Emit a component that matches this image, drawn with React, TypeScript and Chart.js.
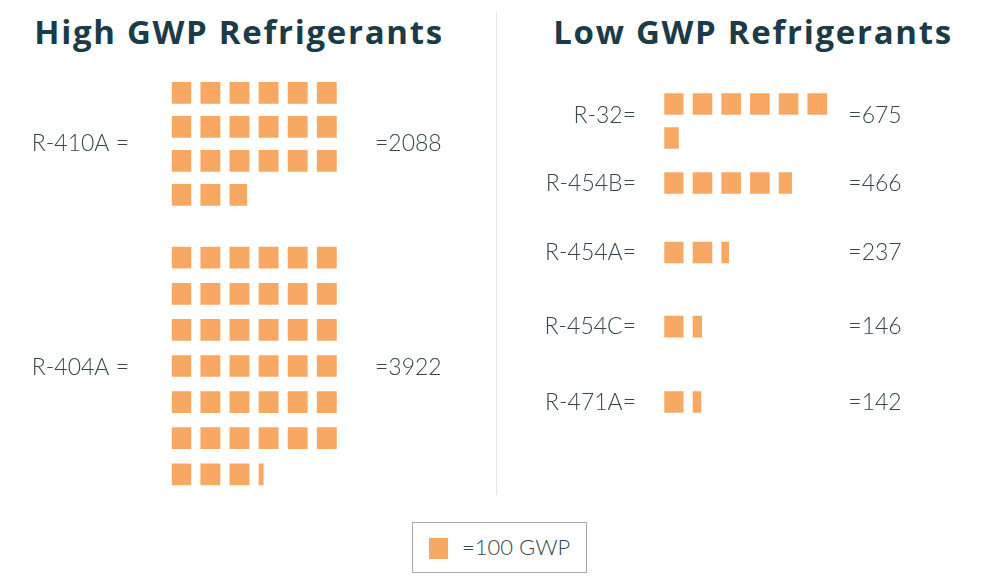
import React, { useEffect, useRef } from 'react';
import { Chart, registerables } from 'chart.js';

Chart.register(...registerables);

// ---------- data ----------
const highNames = ['R-410A', 'R-404A'];
const highGwp = [2088, 3922];
const lowNames = ['R-32', 'R-454B', 'R-454A', 'R-454C', 'R-471A'];
const lowGwp = [675, 466, 237, 146, 142];
const unitGwp = 100;
const perRow = 6;
const titles = ['High GWP Refrigerants', 'Low GWP Refrigerants'];
const legendLabel = '=100 GWP';

// ---------- layout (page pixels, used as y-scale units) ----------
const highRowTop = [92.8, 257.7];
const highRowStep = [34, 36.1];
const highLabelY = [143.6, 368];
const lowRowTop = [104, 183, 252.5, 326.7, 402];
const lowRowStep = [34, 34, 34, 34, 34];
const lowLabelY = [115.5, 183.5, 252.5, 327, 403];

const ORANGE = '#F7A964';
const TEXT = '#34474f';
const TITLE = '#1c3b48';
const SQUARE_FRAC = 0.66;
const CANVAS_H = 560;
const Y_MIN = 60;
const Y_MAX = 490;
const FONT = 'Lato, "Open Sans", sans-serif';
const TITLE_FONT = '"Open Sans", Lato, sans-serif';

type Pt = { x: [number, number]; y: number };

function buildSquares(values: number[], tops: number[], steps: number[]): Pt[] {
  const pts: Pt[] = [];
  values.forEach((v, i) => {
    const n = v / unitGwp;
    const count = Math.ceil(n);
    for (let k = 0; k < count; k++) {
      const fill = Math.min(1, n - k);
      const col = k % perRow;
      const row = Math.floor(k / perRow);
      pts.push({ x: [col, col + fill * SQUARE_FRAC], y: tops[i] + row * steps[i] });
    }
  });
  return pts;
}

type PanelProps = {
  names: string[];
  nameSuffix: string;
  values: number[];
  tops: number[];
  steps: number[];
  labelY: number[];
  left: number;
  width: number;
  leftAxisW: number;
  leftPad: number;
  rightAxisW: number;
  rightPad: number;
  fontSize: number;
};

function Panel(p: PanelProps) {
  const ref = useRef<HTMLCanvasElement>(null);
  useEffect(() => {
    if (!ref.current) return;
    const font = { family: FONT, size: p.fontSize, weight: 300 as any };
    const axis = (position: 'left' | 'right', w: number, pad: number, cb: (i: number) => string) => ({
      type: 'linear' as const,
      position,
      min: Y_MIN,
      max: Y_MAX,
      reverse: true,
      offset: false,
      grid: { display: false, drawTicks: false, offset: false },
      border: { display: false },
      afterFit: (s: any) => {
        s.width = w;
        s.paddingTop = 0;
        s.paddingBottom = 0;
      },
      afterBuildTicks: (s: any) => {
        s.ticks = p.labelY.map((v) => ({ value: v }));
      },
      ticks: {
        autoSkip: false,
        padding: pad,
        color: TEXT,
        font,
        callback: (_v: any, i: number) => cb(i),
      },
    });
    const chart = new Chart(ref.current, {
      type: 'bar',
      data: {
        datasets: [
          {
            data: buildSquares(p.values, p.tops, p.steps) as any,
            backgroundColor: ORANGE,
            borderWidth: 0,
            barThickness: 21,
            xAxisID: 'x',
            yAxisID: 'y',
          },
        ],
      },
      options: {
        indexAxis: 'y',
        animation: false,
        responsive: false,
        maintainAspectRatio: false,
        layout: { padding: { top: Y_MIN, bottom: CANVAS_H - Y_MAX, left: 0, right: 0 } },
        plugins: { legend: { display: false }, tooltip: { enabled: false } },
        scales: {
          x: { type: 'linear', min: 0, max: perRow, display: false, offset: false },
          y: axis('left', p.leftAxisW, p.leftPad, (i) => p.names[i] + p.nameSuffix) as any,
          y2: axis('right', p.rightAxisW, p.rightPad, (i) => '=' + p.values[i]) as any,
        },
      },
    });
    return () => chart.destroy();
  }, []);
  return (
    <canvas
      ref={ref}
      width={p.width}
      height={CANVAS_H}
      style={{ position: 'absolute', left: p.left, top: 0, width: p.width, height: CANVAS_H, display: 'block' }}
    />
  );
}

const titleStyle = {
  position: 'absolute' as const,
  top: 11.5,
  textAlign: 'center' as const,
  fontFamily: TITLE_FONT,
  fontSize: 33,
  lineHeight: '40px',
  fontWeight: 700,
  letterSpacing: '1.7px',
  color: TITLE,
  whiteSpace: 'nowrap' as const,
};

export default function App() {
  return (
    <div
      style={{
        position: 'fixed',
        left: 0,
        top: 0,
        width: 1000,
        height: 588,
        background: '#ffffff',
        overflow: 'hidden',
        fontFamily: FONT,
      }}
    >
      <div style={{ ...titleStyle, left: 1, width: 476 }}>{titles[0]}</div>
      <div style={{ ...titleStyle, left: 505, width: 496 }}>{titles[1]}</div>
      <div style={{ position: 'absolute', left: 496, top: 12, width: 1, height: 483, background: '#e4e4e4' }} />
      <Panel
        names={highNames}
        nameSuffix=" ="
        values={highGwp}
        tops={highRowTop}
        steps={highRowStep}
        labelY={highLabelY}
        left={0}
        width={497}
        leftAxisW={171.7}
        leftPad={42.7}
        rightAxisW={150.7}
        rightPad={28.7}
        fontSize={23}
      />
      <Panel
        names={lowNames}
        nameSuffix="="
        values={lowGwp}
        tops={lowRowTop}
        steps={lowRowStep}
        labelY={lowLabelY}
        left={497}
        width={503}
        leftAxisW={167.3}
        leftPad={28.3}
        rightAxisW={163.5}
        rightPad={11.8}
        fontSize={23}
      />
      <div
        style={{
          position: 'absolute',
          left: 412,
          top: 522,
          width: 175,
          height: 51,
          boxSizing: 'border-box',
          border: '1px solid #a8a8a8',
          background: '#fff',
        }}
      />
      <div style={{ position: 'absolute', left: 429, top: 538, width: 19, height: 21, background: ORANGE }} />
      <div
        style={{
          position: 'absolute',
          left: 462,
          top: 534,
          fontSize: 22,
          fontWeight: 300,
          lineHeight: '26px',
          color: TEXT,
          whiteSpace: 'nowrap',
        }}
      >
        {legendLabel}
      </div>
    </div>
  );
}
